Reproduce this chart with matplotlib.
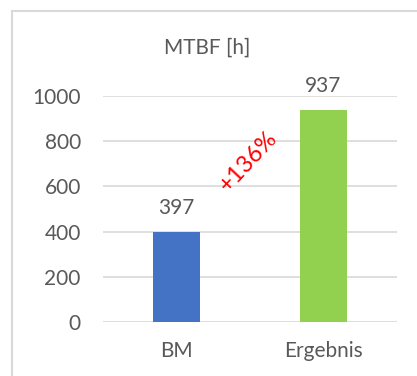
import matplotlib
matplotlib.use("Agg")
import matplotlib.pyplot as plt
from matplotlib.patches import Rectangle

categories = ["BM", "Ergebnis"]
values = [397, 937]
colors = ["#4472C4", "#92D050"]
yticks = [0, 200, 400, 600, 800, 1000]
title = "MTBF [h]"
annotation = "+136%"

plt.rcParams['font.family'] = ['Lato', 'DejaVu Sans']
txt = "#595959"

fig = plt.figure(figsize=(4.17, 3.76), dpi=100)
fig.patch.set_facecolor("white")
ax = fig.add_axes([103/417, 1-322/376, (397-103)/417, (322-96)/376])

x = list(range(len(categories)))
ax.bar(x, values, width=0.32, color=colors, zorder=3)
ax.set_xlim(-0.5, 1.5)
ax.set_ylim(0, 1000)
ax.set_yticks(yticks)
ax.set_yticklabels([str(t) for t in yticks], fontsize=15, color=txt)
ax.set_xticks(x)
ax.set_xticklabels(categories, fontsize=15, color=txt)
ax.tick_params(axis='both', length=0)
ax.tick_params(axis='y', pad=16)
ax.tick_params(axis='x', pad=14)
ax.grid(axis='y', color="#D9D9D9", linewidth=1.2, zorder=0)
for s in ax.spines.values():
    s.set_visible(False)

for xi, v in zip(x, values):
    ax.annotate(str(v), (xi, v), xytext=(0, 10), textcoords='offset points',
                ha='center', va='bottom', fontsize=15, color=txt, clip_on=False)

fig.text(207/417, 1-48/376, title, ha='center', va='center', fontsize=15, color=txt)

fig.text(248/417, 1-162/376, annotation, ha='center', va='center', rotation=47,
         fontsize=17, color="#FF0000", rotation_mode='anchor')

fig.patches.append(Rectangle((12/417, -0.05), 1.2, 1-11/376+0.05, transform=fig.transFigure,
                             fill=False, edgecolor="#D9D9D9", linewidth=1.5, figure=fig))

fig.savefig("out.png", dpi=100)
